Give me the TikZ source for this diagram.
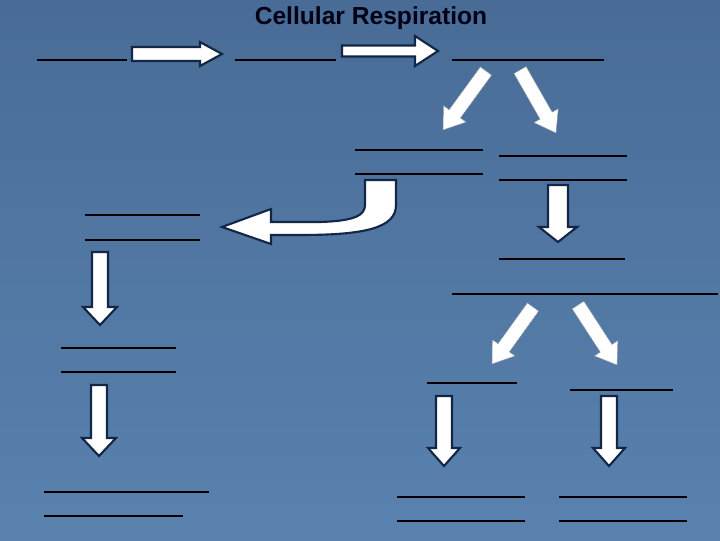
\documentclass[tikz,border=0pt]{standalone}
\usepackage{fontspec}
\setmainfont{Liberation Sans}
\usetikzlibrary{calc}
\definecolor{slateblue}{RGB}{72,108,150}
\definecolor{paleslate}{RGB}{90,130,175}
\definecolor{rim}{RGB}{18,38,70}
\tikzset{
  blank/.style={draw=black,line width=1.5pt},
  block/.style={draw=rim,line width=1.5pt,fill=white,line join=miter},
  thinblock/.style={draw=rim!50,line width=0.3pt,fill=white},
  title/.style={font=\bfseries\fontsize{17.5}{20}\selectfont,text=black!92!blue}
}
% block arrow: style, tail, tip, half shaft, half head, head length (px)
\newcommand\blockarrow[6]{%
  \coordinate (hb) at ($(#3)!#6*0.025cm!(#2)$);
  \draw[#1] ($(#2)!#4*0.025cm!90:(#3)$) -- ($(hb)!#4*0.025cm!90:(#3)$)
    -- ($(hb)!#5*0.025cm!90:(#3)$) -- (#3)
    -- ($(hb)!#5*0.025cm!-90:(#3)$) -- ($(hb)!#4*0.025cm!-90:(#3)$)
    -- ($(#2)!#4*0.025cm!-90:(#3)$) -- cycle;}
\begin{document}
\begin{tikzpicture}[x=0.025cm,y=-0.025cm]
\shade[top color=slateblue,bottom color=paleslate] (0,0) rectangle (720,540);
\useasboundingbox (0,0) rectangle (720,540);
\node[title] (head) at (371,18) {Cellular Respiration};

% blanks
\foreach \xa/\xb/\yy in {37/127/60, 235/336/60, 452/604/60,
    355/483/150, 355/483/174, 499/627/156, 499/627/180,
    85/200/215, 85/200/240, 499/625/259, 452/718/294,
    61/176/348, 61/176/372, 427/517/383, 570/673/390,
    44/209/492, 44/183/516, 397/525/497, 397/525/521,
    559/687/497, 559/687/521}
  \draw[blank] (\xa,\yy) -- (\xb,\yy);

% arrow ends
\coordinate (glyT) at (132,54);   \coordinate (glyH) at (222,54);
\coordinate (pyrT) at (342,51);   \coordinate (pyrH) at (438,51);
\coordinate (anaT) at (486,71);   \coordinate (anaH) at (443,130);
\coordinate (aerT) at (520,70);   \coordinate (aerH) at (556,133);
\coordinate (krebT) at (558,185); \coordinate (krebH) at (558,242);
\coordinate (fermT) at (100,252); \coordinate (fermH) at (100,325);
\coordinate (lacT) at (99,385);   \coordinate (lacH) at (99,456);
\coordinate (etcT) at (533,307);  \coordinate (etcH) at (492,364);
\coordinate (atpT) at (578,305);  \coordinate (atpH) at (617,365);
\coordinate (outT) at (444,396);  \coordinate (outH) at (444,466);
\coordinate (wasT) at (609,396);  \coordinate (wasH) at (609,466);

\blockarrow{block}{glyT}{glyH}{7}{12}{22}
\blockarrow{block}{pyrT}{pyrH}{5.5}{15}{23}
\blockarrow{thinblock}{anaT}{anaH}{7}{14}{20}
\blockarrow{thinblock}{aerT}{aerH}{7}{14}{20}
\blockarrow{thinblock}{etcT}{etcH}{7}{14}{20}
\blockarrow{thinblock}{atpT}{atpH}{7}{14}{20}
\blockarrow{block}{krebT}{krebH}{10}{19}{15}
\blockarrow{block}{fermT}{fermH}{8}{17}{18}
\blockarrow{block}{lacT}{lacH}{8}{17}{18}
\blockarrow{block}{outT}{outH}{8}{16}{18}
\blockarrow{block}{wasT}{wasH}{8}{16}{18}

% curved arrow
\draw[block] (396,180) -- (396,205) .. controls (396,228) and (365,235) .. (300,235)
  -- (271,235) -- (271,244) -- (222,227) -- (271,209) -- (271,222) -- (320,222)
  .. controls (355,221) and (365,215) .. (365,205) -- (365,180) -- cycle;
\end{tikzpicture}
\end{document}
